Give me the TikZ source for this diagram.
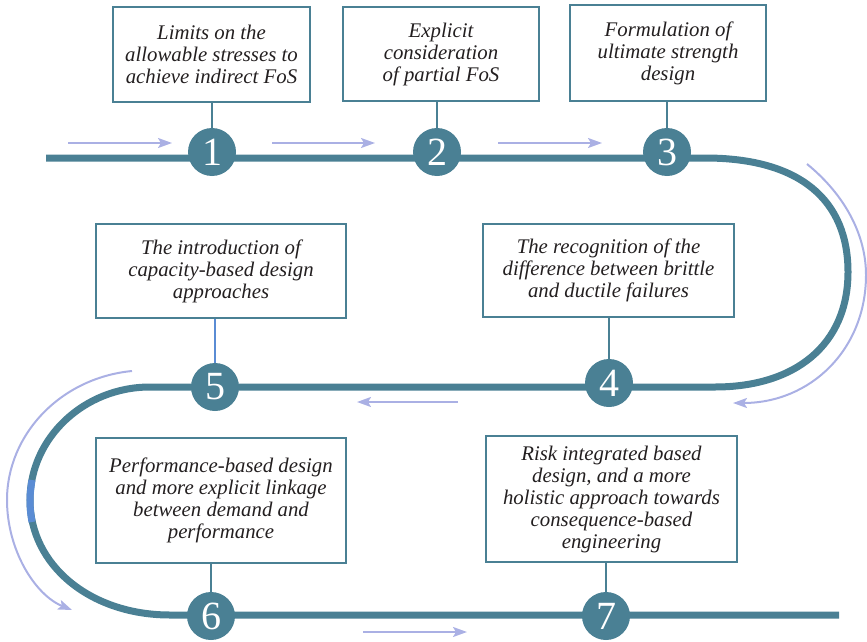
\documentclass[tikz,border=0pt]{standalone}
\usepackage{fontspec}
\setmainfont{Liberation Serif}
\usetikzlibrary{arrows.meta}
\definecolor{track}{RGB}{74,128,148}
\definecolor{flow}{RGB}{170,176,228}
\definecolor{accent}{RGB}{90,140,212}
\definecolor{ink}{RGB}{35,31,32}
\begin{document}
\begin{tikzpicture}[x=1pt,y=-1pt,
  stagebox/.style={draw=track, line width=2pt, fill=white, align=center,
    inner sep=0pt, text=ink, font=\fontsize{20.8}{22}\selectfont\itshape},
  marker/.style={circle, fill=track, text=white, minimum size=48pt,
    inner sep=0pt, font=\fontsize{40}{40}\selectfont},
  rail/.style={draw=track, line width=7pt},
  stem/.style={draw=track, line width=2pt},
  flowarrow/.style={draw=flow, line width=2pt,
    -{Stealth[length=14pt,width=10pt,inset=3pt]}}]

\useasboundingbox (0,0) rectangle (867,642);

% the winding track
\draw[rail] (46,158) -- (705,158)
  .. controls (800,158) and (848,200) .. (848,272)
  .. controls (848,345) and (795,387) .. (715,387)
  -- (150,387)
  .. controls (84,387) and (30,438) .. (30,500)
  .. controls (30,565) and (90,615) .. (170,615)
  -- (839,615);
% highlighted piece of the left bend
\draw[accent, line width=7pt] (32,480) .. controls (30.5,490) and (30,495) .. (30,500)
  .. controls (30,507) and (30.5,514) .. (32,522);

% stage markers
\node[marker] (c1) at (212,152) {1};
\node[marker] (c2) at (437,152) {2};
\node[marker] (c3) at (667,152) {3};
\node[marker] (c4) at (609,383) {4};
\node[marker] (c5) at (215,387) {5};
\node[marker] (c6) at (211,616) {6};
\node[marker] (c7) at (606,616) {7};

% stage descriptions
\node[stagebox, minimum width=197pt, minimum height=95pt] (b1) at (211.5,54.5)
  {Limits on the\\allowable stresses to\\achieve indirect FoS};
\node[stagebox, minimum width=196pt, minimum height=94pt] (b2) at (441,54)
  {Explicit\\consideration\\of partial FoS};
\node[stagebox, minimum width=196pt, minimum height=96pt] (b3) at (668,53)
  {Formulation of\\ultimate strength\\design};
\node[stagebox, minimum width=251pt, minimum height=93pt] (b4) at (608.5,270.5)
  {The recognition of the\\difference between brittle\\and ductile failures};
\node[stagebox, minimum width=250pt, minimum height=94pt] (b5) at (221,271)
  {The introduction of\\capacity-based design\\approaches};
\node[stagebox, minimum width=250pt, minimum height=125pt] (b6) at (221,500.5)
  {Performance-based design\\and more explicit linkage\\between demand and\\performance};
\node[stagebox, minimum width=251pt, minimum height=126pt] (b7) at (611.5,499)
  {Risk integrated based\\design, and a more\\holistic approach towards\\consequence-based\\engineering};

% stems from boxes to markers
\draw[stem] (b1.south -| c1) -- (c1.north);
\draw[stem] (b2.south -| c2) -- (c2.north);
\draw[stem] (b3.south -| c3) -- (c3.north);
\draw[stem] (b4.south -| c4) -- (c4.north);
\draw[stem, draw=accent] (b5.south -| c5) -- (c5.north);
\draw[stem] (b6.south -| c6) -- (c6.north);
\draw[stem] (b7.south -| c7) -- (c7.north);

% direction arrows
\coordinate (a1s) at (68,143);  \coordinate (a1e) at (172,143);
\coordinate (a2s) at (272,143); \coordinate (a2e) at (375,143);
\coordinate (a3s) at (498,143); \coordinate (a3e) at (602,143);
\coordinate (a4s) at (458,402); \coordinate (a4e) at (357,402);
\coordinate (a5s) at (363,632); \coordinate (a5e) at (467,632);
\coordinate (rs) at (807,164);  \coordinate (re) at (733,403);
\coordinate (ls) at (132,371);  \coordinate (le) at (72,610);
\draw[flowarrow] (a1s) -- (a1e);
\draw[flowarrow] (a2s) -- (a2e);
\draw[flowarrow] (a3s) -- (a3e);
\draw[flowarrow] (a4s) -- (a4e);
\draw[flowarrow] (a5s) -- (a5e);
\draw[flowarrow] (rs) .. controls (845,195) and (866,235) .. (866,275)
  .. controls (866,350) and (810,403) .. (re);
\draw[flowarrow] (ls) .. controls (60,378) and (7,435) .. (7,500)
  .. controls (7,550) and (35,595) .. (le);
\end{tikzpicture}
\end{document}
